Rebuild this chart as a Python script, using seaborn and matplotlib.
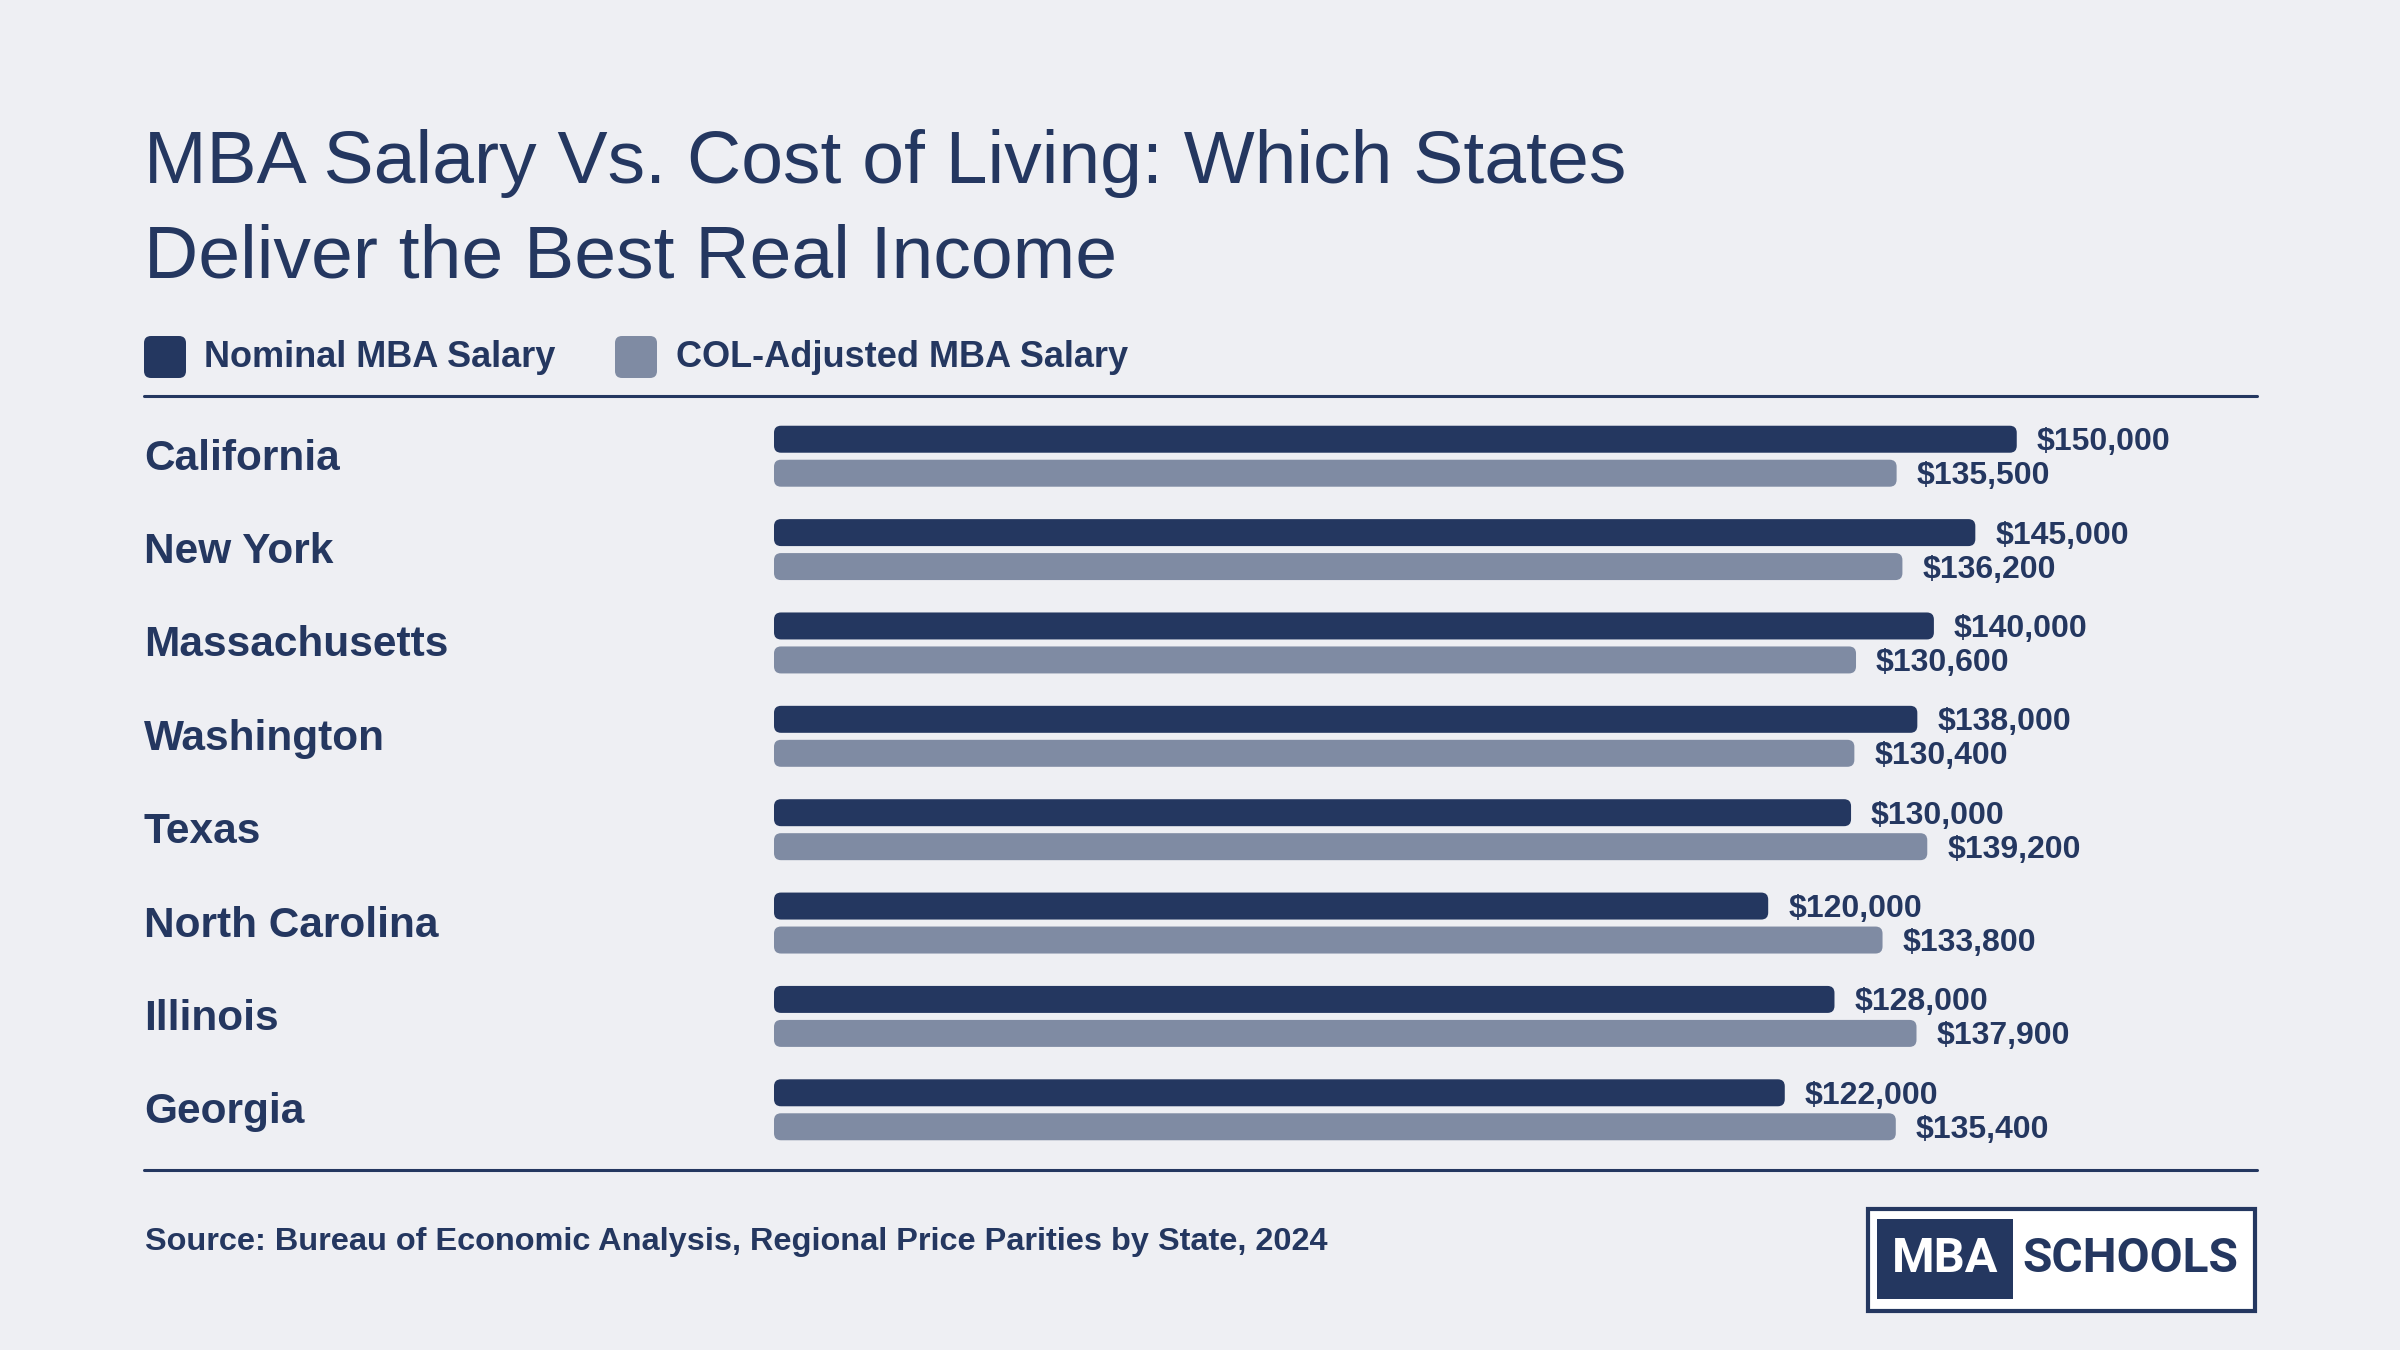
import matplotlib
matplotlib.use("Agg")
import matplotlib.pyplot as plt
from matplotlib.patches import FancyBboxPatch, Rectangle
from matplotlib.lines import Line2D
from matplotlib.transforms import blended_transform_factory
import seaborn as sns
import pandas as pd

# Данные
states = ["California", "New York", "Massachusetts", "Washington",
          "Texas", "North Carolina", "Illinois", "Georgia"]
nominal = [150000, 145000, 140000, 138000, 130000, 120000, 128000, 122000]
adjusted = [135500, 136200, 130600, 130400, 139200, 133800, 137900, 135400]
series = ["Nominal MBA Salary", "COL-Adjusted MBA Salary"]

title_lines = ["MBA Salary Vs. Cost of Living: Which States",
               "Deliver the Best Real Income"]
source = "Source: Bureau of Economic Analysis, Regional Price Parities by State, 2024"

NAVY = "#243760"
GREY = "#7F8BA3"
BG = "#EEEFF3"
W, H = 2400, 1350

sns.set_theme(style="white")
plt.rcParams['font.family'] = ['Liberation Sans', 'DejaVu Sans']

df = pd.DataFrame({
    "state": states * 2,
    "salary": nominal + adjusted,
    "series": [series[0]] * len(states) + [series[1]] * len(states),
})

fig = plt.figure(figsize=(24, 13.5), dpi=100, facecolor=BG)
ax = fig.add_axes([774 / W, 1 - 1170 / H, 1482 / W, 774 / H])
ax.set_facecolor(BG)

sns.barplot(data=df, y="state", x="salary", hue="series", order=states,
            hue_order=series, palette=[NAVY, GREY], orient="h",
            width=0.728, gap=0.206, saturation=1, legend=False, ax=ax)

xmax = 1482 / 8.285 * 1000
ax.set_xlim(0, xmax)
ax.set_ylim(7.645, -0.645)
ax.set_axis_off()

px_x = xmax / 1482          # x data units per pixel
px_y = (7.645 + 0.645) / 774  # y data units per pixel

# Подписи значений
for cont in ax.containers:
    for bar in cont:
        yc = bar.get_y() + bar.get_height() / 2
        val = bar.get_width()
        ax.text(val + 20 * px_x, yc + 11 * px_y, f"${val:,.0f}", va="baseline",
                ha="left", fontsize=23, fontweight="bold", color=NAVY)

# Скругленные бары
for bar in list(ax.patches):
    fb = FancyBboxPatch((bar.get_x(), bar.get_y()), bar.get_width(), bar.get_height(),
                        boxstyle=f"round,pad=0,rounding_size={7 * px_x}",
                        mutation_aspect=px_y / px_x,
                        fc=bar.get_facecolor(), ec="none")
    bar.remove()
    ax.add_patch(fb)

# Названия штатов
tr = blended_transform_factory(fig.transFigure, ax.transData)
for pos, st in zip(ax.get_yticks(), states):
    ax.text(144 / W, pos + 13.5 * px_y, st, transform=tr, va="baseline", ha="left",
            fontsize=30.5, fontweight="bold", color=NAVY)

# Заголовок
fig.text(144 / W, 1 - 183 / H, title_lines[0], fontsize=54.1, color=NAVY, va="baseline")
fig.text(144 / W, 1 - 277 / H, title_lines[1], fontsize=54.1, color=NAVY, va="baseline")

# Легенда
for x_sq, x_txt, col, lab in [(144, 204, NAVY, series[0]), (615, 676, GREY, series[1])]:
    fig.add_artist(FancyBboxPatch((x_sq / W, 1 - 378 / H), 42 / W, 42 / H,
                                  boxstyle=f"round,pad=0,rounding_size={7 / W}",
                                  mutation_aspect=W / H, fc=col, ec="none",
                                  transform=fig.transFigure))
    fig.text(x_txt / W, 1 - 367 / H, lab, fontsize=26, fontweight="bold",
             color=NAVY, va="baseline")

# Линии
for yy in [396, 1170]:
    fig.add_artist(Line2D([144 / W, 2257 / W], [1 - yy / H] * 2, color=NAVY, lw=2.2))

# Источник
fig.text(145 / W, 1 - 1250 / H, source, fontsize=23.4, fontweight="bold",
         color=NAVY, va="baseline")

# Логотип
fig.add_artist(Rectangle((1868 / W, 1 - 1311 / H), 387 / W, 102 / H, fc="white",
                         ec=NAVY, lw=3, transform=fig.transFigure))
fig.add_artist(Rectangle((1877 / W, 1 - 1299 / H), 136 / W, 80 / H, fc=NAVY,
                         ec="none", transform=fig.transFigure))
fig.text(1945 / W, 1 - 1259 / H, "MBA", fontsize=35, fontweight="bold", color="white",
         ha="center", va="center", family=["Roboto", "DejaVu Sans"])
fig.text(2130 / W, 1 - 1259 / H, "SCHOOLS", fontsize=34.5, fontweight="bold", color=NAVY,
         ha="center", va="center", family=["Roboto", "DejaVu Sans"])

fig.savefig("out.png", dpi=100, facecolor=BG)
